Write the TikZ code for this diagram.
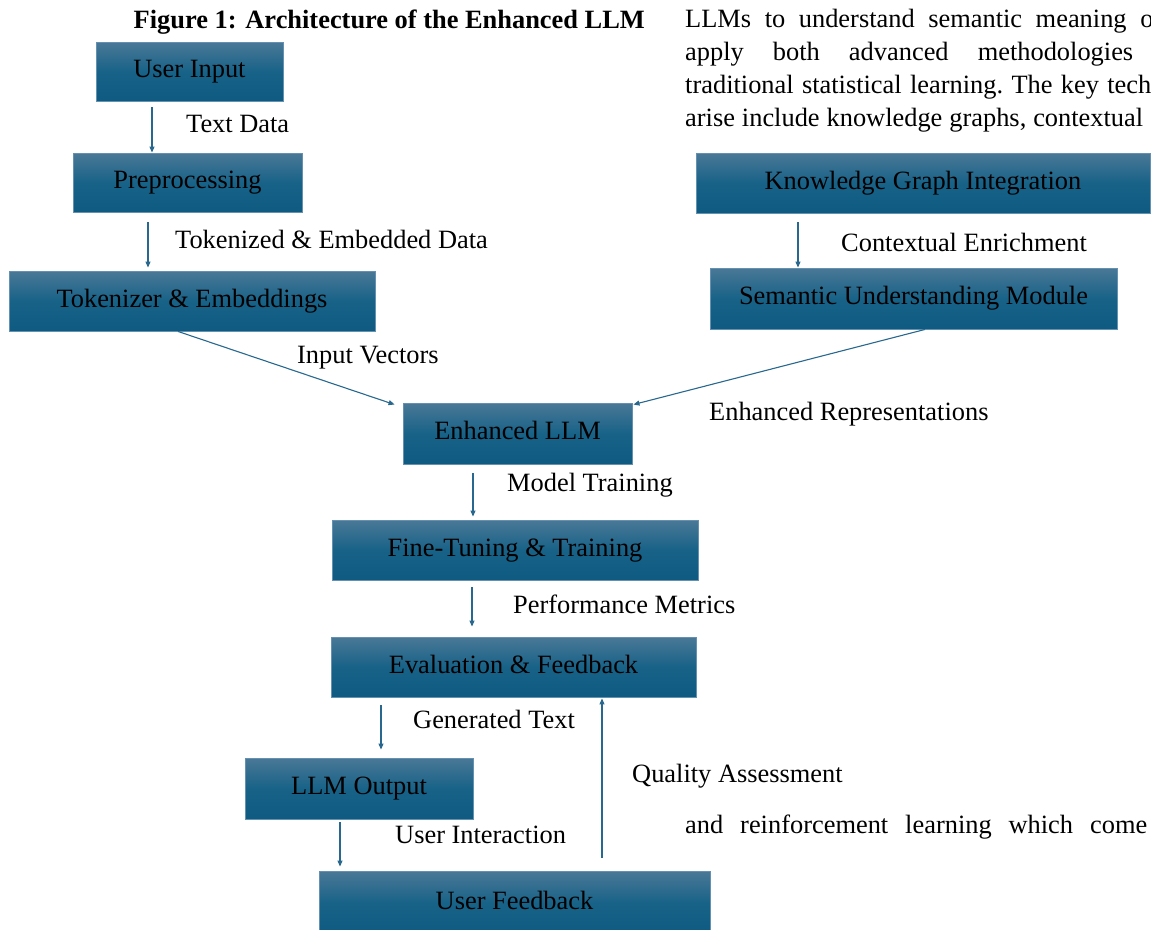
\documentclass[tikz,border=0pt]{standalone}
\usepackage{fontspec}
\setmainfont{Liberation Serif}
\usetikzlibrary{arrows.meta,calc}
\newcommand\myfs{\fontsize{26.4}{31}\selectfont}
\definecolor{boxtop}{RGB}{74,120,150}
\definecolor{boxmid}{RGB}{24,98,136}
\definecolor{boxbot}{RGB}{14,90,128}
\definecolor{boxline}{RGB}{100,145,178}
\definecolor{arrc}{RGB}{40,104,142}
\tikzset{
  box/.style={draw=boxline, line width=0.9pt, top color=boxtop, bottom color=boxbot, middle color=boxmid,
    inner sep=0pt, text height=18pt, text depth=6pt, font=\myfs, text=black},
  arr/.style={draw=arrc, line width=1.1pt, -{Triangle[length=6pt,width=5pt]}},
  lbl/.style={anchor=base west, inner sep=0pt, font=\myfs, text=black},
}
\begin{document}
\begin{tikzpicture}[x=1pt,y=-1pt]
\clip (0,0) rectangle (1151,929);
\fill[white] (0,0) rectangle (1151,929);

% title
\node[anchor=base east, inner sep=0pt, font=\myfs\bfseries] (title) at (645,28) {Figure 1: Architecture of the Enhanced LLM};

% paragraph text on the right
\node[lbl] (p1) at (685,27) {\hbox to 477pt{LLMs\hfill to\hfill understand\hfill semantic\hfill meaning\hfill of}};
\node[lbl] (p2) at (685,60) {\hbox to 448pt{apply\hfill both\hfill advanced\hfill methodologies}};
\node[lbl] (p3) at (685,93) {\hbox to 466pt{traditional\hfill statistical\hfill learning.\hfill The\hfill key\hfill tech}};
\node[lbl] (p4) at (685,126) {\hbox to 458pt{arise\hfill include\hfill knowledge\hfill graphs,\hfill contextual}};
\node[lbl] (p5) at (685,833) {\hbox to 462pt{and\hfill reinforcement\hfill learning\hfill which\hfill come}};

% boxes
\node[box, minimum width=187pt, minimum height=59pt] (ui)  at (189.5,71.5) {User Input};
\node[box, minimum width=229pt, minimum height=59pt] (pre) at (187.5,182.5) {Preprocessing};
\node[box, minimum width=366pt, minimum height=60pt] (tok) at (192,301) {Tokenizer \& Embeddings};
\node[box, minimum width=454pt, minimum height=60pt] (kg)  at (923,183) {Knowledge Graph Integration};
\node[box, minimum width=407pt, minimum height=61pt] (sem) at (913.5,298.5) {Semantic Understanding Module};
\node[box, minimum width=229pt, minimum height=61pt] (llm) at (517.5,433.5) {Enhanced LLM};
\node[box, minimum width=366pt, minimum height=60pt] (ft)  at (515,550) {Fine-Tuning \& Training};
\node[box, minimum width=365pt, minimum height=60pt] (ev)  at (513.5,667) {Evaluation \& Feedback};
\node[box, minimum width=228pt, minimum height=61pt] (out) at (359,788.5) {LLM Output};
\node[box, minimum width=391pt, minimum height=64pt] (uf)  at (514.5,903) {User Feedback};

% connector start points
\coordinate (s1) at ($(ui.south)+(-37.5,6)$);
\coordinate (s2) at ($(pre.south)+(-39.5,10)$);
\coordinate (s3) at ($(kg.south)+(-125,9)$);
\coordinate (s4) at ($(llm.south)+(-44.5,9)$);
\coordinate (s5) at ($(ft.south)+(-43,7)$);
\coordinate (s6) at ($(ev.south)+(-132.5,8)$);
\coordinate (s7) at ($(out.south)+(-19,3)$);
\coordinate (s8) at ($(uf.north)+(87.5,-13)$);

% connectors
\draw[arr] (s1) -- (s1 |- pre.north);
\draw[arr, shorten >=3pt] (s2) -- (s2 |- tok.north);
\draw[arr] (s3) -- (s3 |- sem.north);
\draw[arr] ($(tok.south)+(-14,0)$) -- ($(llm.north west)+(-8,2)$);
\draw[arr] ($(sem.south)+(11.5,0)$) -- ($(llm.north east)+(1,2)$);
\draw[arr, shorten >=3pt] (s4) -- (s4 |- ft.north);
\draw[arr, shorten >=10pt] (s5) -- (s5 |- ev.north);
\draw[arr, shorten >=8pt] (s6) -- (s6 |- out.north);
\draw[arr, shorten >=4pt] (s7) -- (s7 |- uf.north);
\draw[arr, shorten >=1pt] (s8) -- (s8 |- ev.south);

% connector labels
\node[lbl] (l1) at (186,132) {Text Data};
\node[lbl] (l2) at (175,248) {Tokenized \& Embedded Data};
\node[lbl] (l3) at (297,363) {Input Vectors};
\node[lbl] (l4) at (841,251) {Contextual Enrichment};
\node[lbl] (l5) at (709,420) {Enhanced Representations};
\node[lbl] (l6) at (507,491) {Model Training};
\node[lbl] (l7) at (513,613) {Performance Metrics};
\node[lbl] (l8) at (413,728) {Generated Text};
\node[lbl] (l9) at (632,782) {Quality Assessment};
\node[lbl] (l10) at (395,843) {User Interaction};
\end{tikzpicture}
\end{document}
